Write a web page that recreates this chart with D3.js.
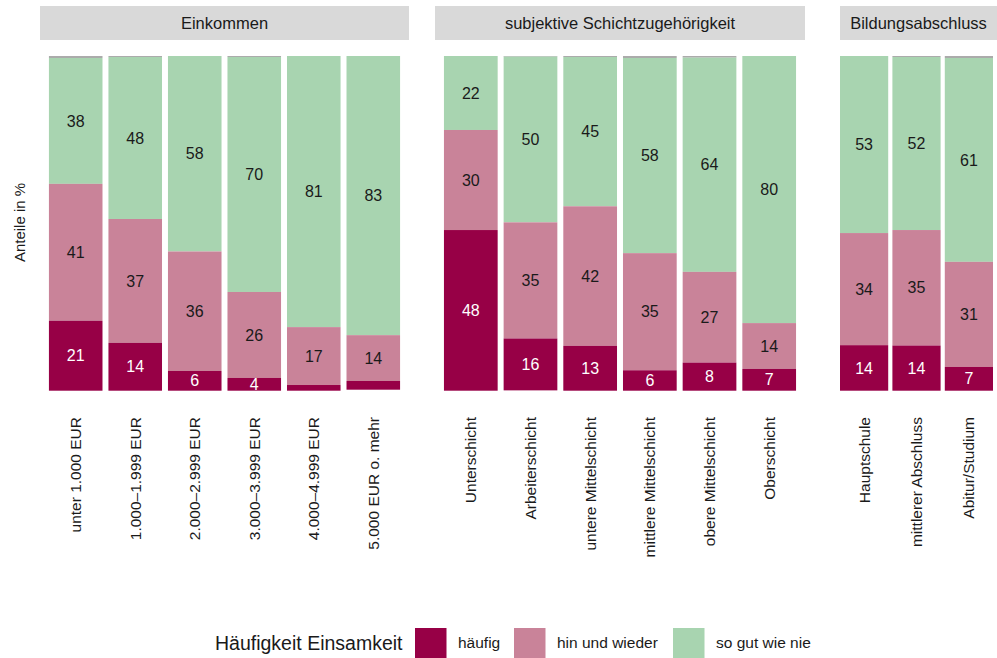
<!DOCTYPE html>
<html><head><meta charset="utf-8">
<script src="https://cdn.jsdelivr.net/npm/d3@7"></script>
<style>body{margin:0;background:#fff}svg{display:block;font-family:"Liberation Sans",Arial,sans-serif}</style>
</head><body><svg id="c" width="997" height="658"></svg>
<script>
const panels = ["Einkommen", "subjektive Schichtzugehörigkeit", "Bildungsabschluss"];
const categories = ["unter 1.000 EUR","1.000–1.999 EUR","2.000–2.999 EUR","3.000–3.999 EUR","4.000–4.999 EUR","5.000 EUR o. mehr",
  "Unterschicht","Arbeiterschicht","untere Mittelschicht","mittlere Mittelschicht","obere Mittelschicht","Oberschicht",
  "Hauptschule","mittlerer Abschluss","Abitur/Studium"];
const panelOf = [0,0,0,0,0,0,1,1,1,1,1,1,2,2,2];
const haeufig      = [20.9,14.3,5.9,3.8,1.7,2.6, 48.0,15.5,13.4,6.1,8.4,6.5, 13.6,13.5,7.1];
const hinUndWieder = [40.9,37.0,35.7,25.7,17.3,13.7, 29.9,34.7,41.7,35.0,27.1,13.7, 33.5,34.5,31.4];
const soGutWieNie  = [37.6,48.4,58.4,70.2,81.0,83.4, 22.1,49.5,44.6,58.3,64.0,79.8, 52.9,51.7,60.9];
const keineAngabe  = [0.6,0.3,0,0.3,0,0, 0,0.2,0.3,0.6,0.5,0, 0,0.3,0.6];
const seriesNames = ["häufig","hin und wieder","so gut wie nie"];
const colors = {"häufig":"#970046","hin und wieder":"#C98399","so gut wie nie":"#A8D4B0","NA":"#ABABAB"};
const labelColor = {"häufig":"#ffffff","hin und wieder":"#1a1a1a","so gut wie nie":"#1a1a1a"};

const svg = d3.select("#c");
const y = d3.scaleLinear().domain([0,100]).range([390.7,56]);
const panelRanges = [[40,409],[435,805],[840,993]];
const stripRanges = [[40,409],[435,805],[840,997]];
const panelPad = [[0.1,0.15],[0.1,0.15],[0.08,0]];

panels.forEach((p,pi)=>{
  const idx = categories.map((c,i)=>i).filter(i=>panelOf[i]===pi);
  const x = d3.scaleBand().domain(idx.map(i=>categories[i])).range(panelRanges[pi])
    .paddingInner(panelPad[pi][0]).paddingOuter(panelPad[pi][1]);
  const sr = stripRanges[pi];
  svg.append("rect").attr("x",sr[0]).attr("y",6).attr("width",sr[1]-sr[0]).attr("height",34).attr("fill","#D9D9D9");
  svg.append("text").attr("x",(sr[0]+sr[1])/2).attr("y",23)
    .attr("dy","0.35em").attr("text-anchor","middle").attr("font-size",16.5).attr("fill","#1a1a1a").text(p);
  idx.forEach(i=>{
    const segs = [["NA",keineAngabe[i]],["so gut wie nie",soGutWieNie[i]],["hin und wieder",hinUndWieder[i]],["häufig",haeufig[i]]];
    let top = 100;
    const g = svg.append("g");
    segs.forEach(([name,v])=>{
      if(v<=0) return;
      const bottom = top - v;
      g.append("rect").attr("x",x(categories[i])).attr("width",x.bandwidth())
        .attr("y",y(top)).attr("height",y(bottom)-y(top)).attr("fill",colors[name]);
      if(name!=="NA" && v>=3){
        g.append("text").attr("x",x(categories[i])+x.bandwidth()/2).attr("y",y((top+bottom)/2))
          .attr("dy","0.35em").attr("text-anchor","middle").attr("font-size",16)
          .attr("fill",labelColor[name]).text(Math.round(v));
      }
      top = bottom;
    });
    const cx = x(categories[i])+x.bandwidth()/2;
    svg.append("text").attr("transform",`translate(${cx},417) rotate(-90)`).attr("dy","0.35em")
      .attr("text-anchor","end").attr("font-size",15.5).attr("fill","#1a1a1a").text(categories[i]);
  });
});

svg.append("text").attr("transform","translate(20,222.5) rotate(-90)").attr("dy","0.35em")
  .attr("text-anchor","middle").attr("font-size",15).attr("fill","#1a1a1a").text("Anteile in %");

// legend
const lg = svg.append("g");
lg.append("text").attr("x",215).attr("y",643).attr("dy","0.35em").attr("font-size",19.5).attr("fill","#1a1a1a").text("Häufigkeit Einsamkeit");
const keyX = [415,514,673];
seriesNames.forEach((s,k)=>{
  lg.append("rect").attr("x",keyX[k]).attr("y",628).attr("width",31.5).attr("height",30).attr("fill",colors[s]);
  lg.append("text").attr("x",keyX[k]+43).attr("y",643).attr("dy","0.35em").attr("font-size",15.5).attr("fill","#1a1a1a").text(s);
});
</script></body></html>
